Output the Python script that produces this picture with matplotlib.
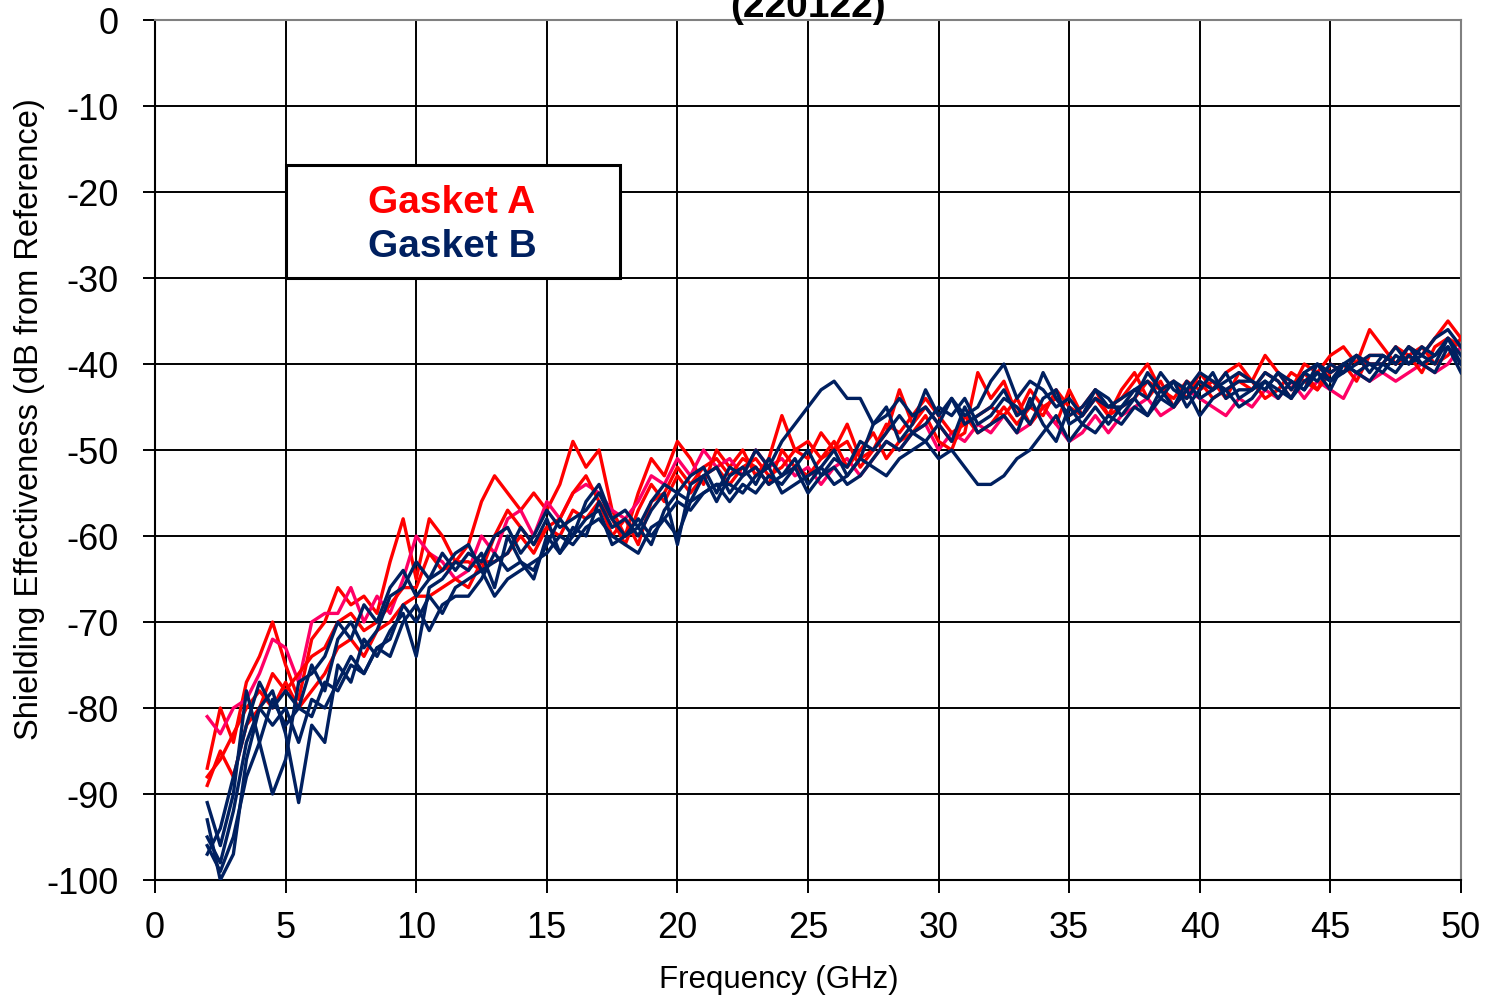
import numpy as np
import matplotlib
matplotlib.use("Agg")
import matplotlib.pyplot as plt
from matplotlib.patches import Rectangle

plt.rcParams['font.family'] = ['Liberation Sans', 'DejaVu Sans']
plt.rcParams['axes.unicode_minus'] = False

# Frequency points (GHz), 0.5 GHz step from 2 to 50
freq = np.arange(2.0, 50.01, 0.5)

# Gasket A runs (dB from reference)
gasket_a1 = [-87, -80, -84, -77, -74, -70, -75, -79, -72, -70,
             -66, -68, -67, -69, -63, -58, -65, -58, -60, -63,
             -61, -56, -53, -55, -57, -55, -57, -54, -49, -52,
             -50, -57, -60, -55, -51, -53, -49, -51, -54, -50,
             -52, -50, -53, -51, -46, -50, -51, -48, -50, -47,
             -51, -50, -48, -43, -47, -45, -47, -49, -48, -41,
             -44, -42, -46, -43, -45, -47, -43, -46, -44, -45,
             -44, -42, -40, -43, -42, -44, -41, -43, -41, -40,
             -42, -39, -41, -43, -40, -41, -39, -38, -40, -36,
             -38, -40, -38, -39, -37, -35, -37]
gasket_a2 = [-89, -85, -88, -82, -80, -76, -78, -76, -74, -73,
             -70, -69, -71, -70, -68, -66, -66, -62, -64, -63,
             -63, -64, -60, -57, -59, -61, -59, -58, -55, -53,
             -56, -60, -58, -61, -56, -55, -52, -54, -52, -51,
             -53, -51, -52, -54, -50, -52, -53, -51, -49, -52,
             -50, -48, -51, -49, -48, -46, -49, -50, -46, -48,
             -47, -45, -47, -45, -46, -43, -45, -46, -44, -46,
             -43, -41, -44, -42, -45, -43, -42, -44, -43, -42,
             -43, -41, -42, -44, -41, -43, -40, -41, -39, -40,
             -40, -38, -39, -41, -38, -37, -38]
gasket_a3 = [-81, -83, -80, -79, -76, -72, -73, -77, -70, -69,
             -69, -66, -70, -67, -69, -65, -60, -62, -63, -65,
             -64, -60, -62, -58, -57, -60, -56, -58, -55, -54,
             -55, -57, -58, -56, -53, -54, -51, -53, -50, -52,
             -51, -53, -50, -52, -51, -53, -52, -54, -52, -51,
             -53, -51, -49, -50, -48, -47, -50, -48, -49, -47,
             -48, -46, -48, -47, -45, -47, -49, -48, -46, -48,
             -46, -45, -44, -46, -45, -43, -44, -45, -46, -44,
             -45, -43, -44, -42, -44, -42, -43, -44, -41, -42,
             -41, -42, -41, -40, -41, -40, -38]
gasket_a4 = [-88, -86, -83, -80, -78, -80, -77, -80, -78, -76,
             -73, -72, -74, -71, -70, -68, -67, -67, -66, -65,
             -66, -63, -63, -62, -60, -62, -59, -60, -57, -58,
             -56, -58, -61, -57, -54, -56, -53, -55, -53, -52,
             -54, -52, -51, -53, -52, -50, -49, -51, -50, -49,
             -52, -50, -47, -48, -46, -44, -46, -48, -47, -46,
             -45, -46, -44, -47, -45, -44, -46, -45, -43, -46,
             -45, -44, -42, -43, -44, -42, -43, -42, -44, -41,
             -42, -44, -43, -41, -42, -43, -41, -40, -42, -39,
             -39, -40, -39, -38, -40, -39, -37]

# Gasket B runs (dB from reference)
gasket_b1 = [-91, -96, -90, -78, -84, -90, -86, -77, -76, -74,
             -70, -72, -68, -70, -66, -64, -67, -65, -62, -64,
             -62, -63, -60, -59, -62, -60, -57, -59, -58, -57,
             -55, -58, -57, -59, -56, -54, -55, -53, -52, -55,
             -52, -53, -50, -52, -49, -47, -45, -43, -42, -44,
             -44, -47, -46, -44, -46, -45, -47, -44, -46, -45,
             -42, -40, -44, -42, -43, -45, -44, -46, -43, -45,
             -44, -43, -42, -44, -42, -43, -41, -42, -43, -42,
             -42, -43, -41, -42, -43, -40, -41, -40, -39, -41,
             -39, -40, -38, -39, -40, -37, -39]
gasket_b2 = [-93, -100, -97, -86, -80, -78, -83, -91, -82, -84,
             -75, -77, -72, -74, -71, -69, -74, -66, -65, -63,
             -64, -62, -66, -60, -63, -64, -61, -58, -60, -56,
             -54, -58, -60, -59, -61, -57, -55, -56, -53, -52,
             -55, -53, -52, -54, -53, -51, -54, -52, -50, -53,
             -51, -47, -45, -49, -47, -43, -46, -44, -47, -46,
             -45, -43, -46, -45, -41, -44, -46, -45, -43, -44,
             -46, -44, -41, -43, -45, -42, -44, -43, -41, -44,
             -43, -41, -42, -44, -41, -42, -40, -41, -39, -40,
             -40, -38, -40, -39, -37, -36, -38]
gasket_b3 = [-95, -98, -92, -84, -80, -82, -80, -84, -79, -80,
             -77, -74, -76, -73, -72, -68, -70, -67, -69, -66,
             -65, -64, -67, -65, -64, -63, -62, -60, -61, -59,
             -58, -60, -61, -62, -59, -58, -60, -56, -55, -54,
             -54, -55, -53, -52, -55, -54, -53, -52, -54, -53,
             -51, -52, -53, -51, -50, -49, -51, -50, -52, -54,
             -54, -53, -51, -50, -48, -46, -49, -47, -48, -46,
             -47, -45, -46, -44, -45, -43, -46, -44, -43, -45,
             -44, -42, -43, -44, -42, -41, -43, -40, -41, -42,
             -40, -41, -39, -40, -41, -38, -40]
gasket_b4 = [-97, -94, -88, -82, -77, -80, -78, -80, -75, -78,
             -72, -70, -73, -71, -67, -66, -63, -65, -64, -62,
             -61, -64, -63, -62, -59, -61, -58, -62, -59, -60,
             -56, -59, -58, -60, -57, -55, -61, -54, -53, -56,
             -53, -52, -54, -51, -53, -52, -50, -53, -51, -52,
             -49, -50, -48, -46, -48, -47, -45, -46, -44, -47,
             -46, -44, -45, -47, -44, -43, -47, -46, -44, -45,
             -45, -43, -44, -41, -43, -44, -42, -43, -42, -41,
             -42, -43, -41, -43, -41, -40, -42, -41, -40, -39,
             -39, -40, -38, -40, -39, -38, -41]
gasket_b5 = [-96, -99, -95, -88, -84, -79, -82, -80, -81, -77,
             -78, -75, -76, -73, -74, -70, -68, -71, -68, -67,
             -67, -65, -62, -64, -63, -65, -60, -62, -60, -58,
             -57, -61, -60, -58, -60, -58, -56, -57, -55, -54,
             -56, -54, -55, -53, -54, -52, -55, -53, -52, -54,
             -53, -51, -49, -50, -48, -49, -47, -49, -45, -48,
             -47, -46, -48, -44, -47, -49, -45, -47, -45, -47,
             -45, -44, -46, -43, -42, -45, -43, -41, -44, -43,
             -43, -42, -44, -42, -43, -41, -42, -40, -41, -40,
             -41, -39, -40, -38, -39, -37, -40]

red = '#FF0000'
pink = '#FF0066'
navy = '#002060'

fig = plt.figure(figsize=(14.91, 9.98), dpi=100)
ax = fig.add_axes([155/1491, 118/998, 1306/1491, 860/998])

for s, c in [(gasket_a1, red), (gasket_a3, pink), (gasket_a2, red), (gasket_a4, red)]:
    ax.plot(freq, s, color=c, lw=2.4, zorder=3)
for s in [gasket_b1, gasket_b2, gasket_b3, gasket_b4, gasket_b5]:
    ax.plot(freq, s, color=navy, lw=2.4, zorder=4)

ax.set_xlim(0, 50)
ax.set_ylim(-100, 0)
ax.set_xticks(np.arange(0, 51, 5))
ax.set_yticks(np.arange(-100, 1, 10))
ax.grid(True, color='black', lw=1.4)
ax.set_axisbelow(True)
ax.tick_params(direction='out', length=9, width=1.4, labelsize=26, color='black')
ax.tick_params(axis='y', pad=17)
ax.tick_params(axis='x', pad=13)
for side in ['left', 'bottom']:
    ax.spines[side].set_color('black')
    ax.spines[side].set_linewidth(1.5)
for side in ['top', 'right']:
    ax.spines[side].set_color('#808080')
    ax.spines[side].set_linewidth(1.5)

# legend box
ax.add_patch(Rectangle((0.1003, 0.70), 0.2557, 0.1314, transform=ax.transAxes,
                       facecolor='white', edgecolor='black', lw=2.2, zorder=6))
ax.text(0.2274, 0.7872, 'Gasket A', transform=ax.transAxes, color=red,
        fontsize=28, fontweight='bold', ha='center', va='center', zorder=7)
ax.text(0.2274, 0.7360, 'Gasket B', transform=ax.transAxes, color=navy,
        fontsize=28, fontweight='bold', ha='center', va='center', zorder=7)

fig.text(808/1491, 1 - 17/998, '(220122)', fontsize=28, fontweight='bold',
         ha='center', va='baseline')
fig.text(779/1491, 1 - 980/998, 'Frequency (GHz)', fontsize=22.5,
         ha='center', va='center')
fig.text(30/1491, 1 - 419/998, 'Shielding Effectiveness (dB from Reference)',
         fontsize=23.5, rotation=90, ha='center', va='center')

fig.savefig('out.png', dpi=100)
